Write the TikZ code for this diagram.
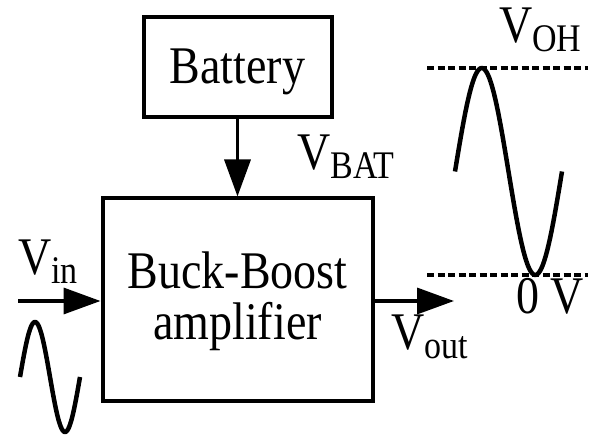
\documentclass[tikz,border=0pt]{standalone}
\usepackage{fontspec}
\usepackage{graphicx}
\setmainfont{Liberation Serif}
\usetikzlibrary{arrows.meta}
\newcommand\mysub[1]{\raisebox{-7pt}{\fontsize{34}{34}\selectfont #1}}
\newcommand\tallt[1]{\scalebox{1}[1.15]{#1}}
\begin{document}
\begin{tikzpicture}[x=1pt,y=-1pt,
  box/.style={draw,line width=4pt,inner sep=0pt},
  lbl/.style={inner sep=0pt,font=\fontsize{46}{50}\selectfont},
  conn/.style={line width=3.5pt,-{Triangle[length=37pt,width=26pt]}},
  wave/.style={line width=4.5pt,line join=round,line cap=butt},
  level/.style={line width=3.5pt,dash pattern=on 7pt off 3.5pt}]
\useasboundingbox (0,0) rectangle (592,435);
% boxes
\node[box,minimum width=188pt,minimum height=100pt] (bat) at (237.5,67.5) {};
\node[box,minimum width=270pt,minimum height=203pt] (amp) at (237.5,300) {};
% texts
\node[lbl,anchor=base] (battxt) at (237.5,84) {\tallt{Battery}};
\node[lbl,anchor=base] (bbtxt) at (237.5,289) {\tallt{Buck-Boost}};
\node[lbl,anchor=base] (amptxt) at (237.5,340) {\tallt{amplifier}};
\node[lbl,anchor=base west] (vbat) at (297,170) {\tallt{V\mysub{BAT}}};
\node[lbl,anchor=base west] (vin) at (18,275) {\tallt{V\mysub{in}}};
\node[lbl,anchor=base west] (vout) at (391,350) {\tallt{V\mysub{out}}};
\node[lbl,anchor=base west] (voh) at (499,43) {\tallt{V\mysub{OH}}};
\node[lbl,anchor=base west] (zero) at (516,314) {\tallt{0 V}};
% connectors
\coordinate (inS) at (18,301);
\coordinate (outE) at (454,301);
\draw[conn] (bat.south) -- (amp.north);
\draw[conn] (inS) -- (inS -| amp.west);
\draw[conn] (amp.east |- outE) -- (outE);
% dashed levels
\coordinate (topL) at (427,68);
\coordinate (topR) at (588,68);
\coordinate (botL) at (427,275);
\coordinate (botR) at (588,275);
\draw[level] (topL) -- (topR);
\draw[level] (botL) -- (botR);
% waves
\draw[wave,variable=\t,domain=0:360,samples=73] plot ({20+\t/6},{377-55*sin(\t)});
\draw[wave,variable=\t,domain=0:360,samples=73] plot ({455+0.2972*\t},{171.5-103.5*sin(\t)});
\end{tikzpicture}
\end{document}
